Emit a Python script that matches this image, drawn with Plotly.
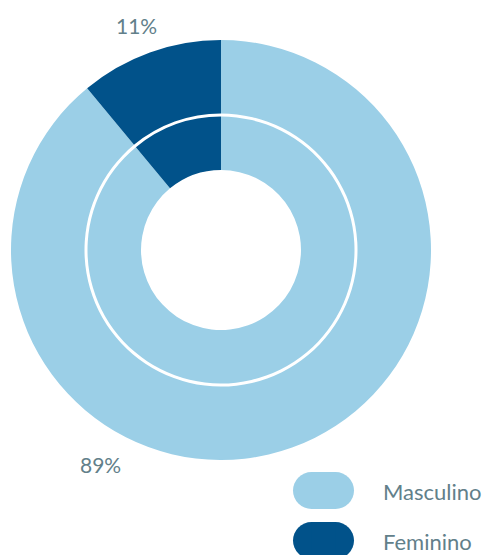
import plotly.graph_objects as go

labels = ["Masculino", "Feminino"]
values = [89, 11]
colors = ["#9bcfe7", "#01528a"]
text_color = "#62808a"
font_family = "Lato, Open Sans, sans-serif"

OFF = 8  # page body margin offset
W, H = 495 - OFF, 555 - OFF
L, T, SIZE = 11 - OFF, 40 - OFF, 420  # plot square (in figure pixels)


def px_x(px):
    # px given in screenshot pixels
    return (px - OFF - L) / SIZE


def px_y(py):
    return (T + SIZE - (py - OFF)) / SIZE


fig = go.Figure()

# outer ring
fig.add_trace(go.Pie(
    labels=labels, values=values, sort=False, direction="clockwise", rotation=0,
    hole=136.5 / 210, marker=dict(colors=colors, line=dict(width=0)),
    textinfo="none", hoverinfo="label+percent", showlegend=False,
    domain=dict(x=[0, 1], y=[0, 1]),
))
# inner ring
r_in = 133.5
fig.add_trace(go.Pie(
    labels=labels, values=values, sort=False, direction="clockwise", rotation=0,
    hole=80 / r_in, marker=dict(colors=colors, line=dict(width=0)),
    textinfo="none", hoverinfo="label+percent", showlegend=False,
    domain=dict(x=[(210 - r_in) / SIZE, (210 + r_in) / SIZE],
                y=[(210 - r_in) / SIZE, (210 + r_in) / SIZE]),
))

# percentage labels
label_pos = {"Feminino": (136, 26), "Masculino": (100, 464)}
annotations = []
for lab, v in zip(labels, values):
    x, y = label_pos[lab]
    annotations.append(dict(
        x=px_x(x), y=px_y(y), xref="paper", yref="paper", text=f"{v}%",
        showarrow=False, xanchor="center", yanchor="middle",
        font=dict(family=font_family, size=21, color=text_color),
    ))

# custom legend with pill-shaped swatches
shapes = []
leg_x0, leg_x1 = 293, 354
leg_tops = [472, 522]
pill_h = 37
for lab, col, top in zip(labels, colors, leg_tops):
    bot = top + pill_h
    r = pill_h / 2
    shapes.append(dict(type="circle", xref="paper", yref="paper",
                       x0=px_x(leg_x0), x1=px_x(leg_x0 + pill_h),
                       y0=px_y(bot), y1=px_y(top), fillcolor=col, line=dict(width=0)))
    shapes.append(dict(type="circle", xref="paper", yref="paper",
                       x0=px_x(leg_x1 - pill_h), x1=px_x(leg_x1),
                       y0=px_y(bot), y1=px_y(top), fillcolor=col, line=dict(width=0)))
    shapes.append(dict(type="rect", xref="paper", yref="paper",
                       x0=px_x(leg_x0 + r), x1=px_x(leg_x1 - r),
                       y0=px_y(bot), y1=px_y(top), fillcolor=col, line=dict(width=0)))
    annotations.append(dict(
        x=px_x(381), y=px_y(top + r + 1), xref="paper", yref="paper", text=lab,
        showarrow=False, xanchor="left", yanchor="middle",
        font=dict(family=font_family, size=22, color=text_color),
    ))

fig.update_layout(
    width=W, height=H,
    margin=dict(l=L, r=W - L - SIZE, t=T, b=H - T - SIZE, pad=0),
    paper_bgcolor="white", plot_bgcolor="white",
    annotations=annotations, shapes=shapes,
)

fig.write_html("out.html")
